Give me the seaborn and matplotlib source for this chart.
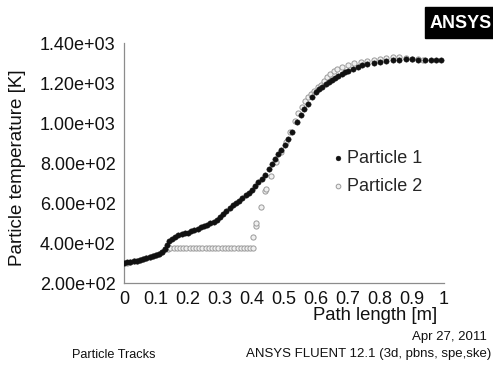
import matplotlib
matplotlib.use("Agg")
import matplotlib.pyplot as plt
import matplotlib.ticker as mticker
import numpy as np
import pandas as pd
import seaborn as sns

# path length [m] and temperature [K] of particle 1
p1_path = [
    0.000, 0.010, 0.020, 0.030, 0.040, 0.050, 0.060, 0.070, 0.080, 0.090,
    0.100, 0.110, 0.120, 0.128, 0.135, 0.142, 0.150, 0.160, 0.170, 0.180,
    0.190, 0.200, 0.210, 0.220, 0.230, 0.240, 0.250, 0.260, 0.270, 0.280,
    0.290, 0.300, 0.310, 0.320, 0.330, 0.340, 0.350, 0.360, 0.370, 0.380,
    0.390, 0.400, 0.410, 0.420, 0.430, 0.440, 0.452, 0.462, 0.472, 0.482,
    0.492, 0.502, 0.514, 0.526, 0.540, 0.552, 0.564, 0.576, 0.588, 0.600,
    0.610, 0.620, 0.630, 0.640, 0.650, 0.660, 0.670, 0.680, 0.690, 0.700,
    0.715, 0.730, 0.745, 0.760, 0.780, 0.800, 0.820, 0.840, 0.860, 0.880,
    0.900, 0.920, 0.940, 0.960, 0.975, 0.990,
]
p1_temp = [
    300, 303, 305, 308, 312, 316, 320, 324, 330, 335,
    340, 346, 355, 370, 392, 410, 422, 430, 438, 443,
    448, 452, 458, 463, 470, 478, 486, 492, 498, 505,
    514, 530, 545, 560, 575, 588, 600, 612, 624, 638,
    652, 666, 684, 704, 722, 742, 772, 795, 818, 845,
    866, 890, 922, 955, 1006, 1040, 1070, 1095, 1130, 1155,
    1168, 1182, 1193, 1203, 1215, 1226, 1236, 1246, 1254, 1261,
    1272, 1282, 1290, 1296, 1302, 1306, 1310, 1313, 1316, 1318,
    1318, 1317, 1316, 1316, 1316, 1315,
]

# path length [m] and temperature [K] of particle 2
p2_path = [
    0.000, 0.010, 0.020, 0.030, 0.040, 0.050, 0.060, 0.070, 0.080, 0.090,
    0.100, 0.110, 0.120, 0.128, 0.136, 0.145, 0.155, 0.165, 0.175, 0.185,
    0.195, 0.205, 0.215, 0.225, 0.235, 0.245, 0.255, 0.265, 0.275, 0.285,
    0.295, 0.305, 0.315, 0.325, 0.335, 0.345, 0.355, 0.365, 0.375, 0.385,
    0.395, 0.402, 0.404, 0.412, 0.413, 0.427, 0.442, 0.444, 0.458, 0.475,
    0.490, 0.505, 0.520, 0.535, 0.545, 0.555, 0.565,
    0.575, 0.585, 0.595, 0.605, 0.615, 0.625, 0.635, 0.645, 0.655, 0.665,
    0.680, 0.700, 0.720, 0.740, 0.760, 0.780, 0.800, 0.820, 0.840, 0.860,
    0.880, 0.900, 0.920, 0.935,
]
p2_temp = [
    300, 302, 304, 308, 311, 315, 319, 323, 329, 334,
    339, 345, 355, 368, 372, 373, 373, 374, 373, 374,
    373, 374, 374, 373, 374, 374, 373, 374, 374, 373,
    374, 374, 373, 374, 374, 373, 374, 374, 373, 374,
    374, 374, 428, 485, 498, 578, 660, 672, 735, 805,
    855, 905, 955, 1010, 1050, 1082, 1110,
    1128, 1145, 1162, 1178, 1192, 1210, 1228, 1245, 1262, 1270,
    1280, 1291, 1299, 1306, 1311, 1316, 1321, 1326, 1329, 1331,
    1327, 1322, 1319, 1316,
]

x_ticks = [0, 0.1, 0.2, 0.3, 0.4, 0.5, 0.6, 0.7, 0.8, 0.9, 1]
x_tick_labels = ["0", "0.1", "0.2", "0.3", "0.4", "0.5", "0.6", "0.7", "0.8", "0.9", "1"]
y_ticks = [200, 400, 600, 800, 1000, 1200, 1400]

sns.set_style("white")
plt.rcParams["font.family"] = ["Liberation Sans", "DejaVu Sans"]

df1 = pd.DataFrame({"path": p1_path, "temp": p1_temp})
df2 = pd.DataFrame({"path": p2_path, "temp": p2_temp})

fig = plt.figure(figsize=(4.93, 3.65), dpi=100)
ax = fig.add_axes([124 / 493, 1 - 283 / 365, 320 / 493, 240 / 365])

# particle 2 underneath, particle 1 on top
sns.scatterplot(data=df2, x="path", y="temp", ax=ax, s=14, marker="o",
                facecolor="#f0f0f0", edgecolor="#9a9a9a", linewidth=0.7,
                label="Particle 2", zorder=2)
sns.scatterplot(data=df1, x="path", y="temp", ax=ax, s=15, marker="o",
                color="#111111", edgecolor="#111111", linewidth=0.3,
                label="Particle 1", zorder=3)

ax.set_xlim(0, 1)
ax.set_ylim(200, 1400)
ax.set_xticks(x_ticks)
ax.set_xticklabels(x_tick_labels)
ax.set_yticks(y_ticks)
ax.yaxis.set_major_formatter(mticker.FuncFormatter(lambda v, p: f"{v:.2e}"))
ax.xaxis.set_minor_locator(mticker.MultipleLocator(0.01))
ax.yaxis.set_minor_locator(mticker.MultipleLocator(100))

for side in ["top", "right"]:
    ax.spines[side].set_visible(False)
for side in ["left", "bottom"]:
    ax.spines[side].set_color("#8c8c8c")
    ax.spines[side].set_linewidth(0.9)

ax.tick_params(which="major", direction="out", length=4, width=0.8,
               color="#8c8c8c", labelsize=13, labelcolor="#111111", pad=2)
ax.tick_params(which="minor", direction="out", length=2, width=0.6,
               color="#a0a0a0")
ax.tick_params(axis="y", which="minor", length=2.5)

ax.set_xlabel("Path length [m]", fontsize=13.3, color="#111111", loc="right")
ax.xaxis.set_label_coords((437 - 124) / 320, -0.1)
ax.set_ylabel("Particle temperature [K]", fontsize=13.5, color="#111111")
ax.yaxis.set_label_coords(-0.305, 0.48)

handles, labels = ax.get_legend_handles_labels()
order = [labels.index("Particle 1"), labels.index("Particle 2")]
ax.legend([handles[i] for i in order], [labels[i] for i in order],
          loc="upper left", bbox_to_anchor=(322 / 493, 1 - 141 / 365),
          bbox_transform=fig.transFigure, frameon=False, fontsize=13,
          handletextpad=0.1, handlelength=0.8, labelspacing=0.6,
          borderpad=0, markerscale=0.9)

# ANSYS logo box
fig.patches.append(plt.Rectangle((425 / 493, 1 - 38 / 365), 70 / 493, 31 / 365,
                                 transform=fig.transFigure, color="black"))
fig.text(430 / 493, 1 - 23 / 365, "ANSYS", color="white", fontsize=13,
         fontweight="bold", va="center", ha="left")

fig.text(487 / 493, 1 - 337 / 365, "Apr 27, 2011", fontsize=9.5,
         ha="right", va="center", color="#111111")
fig.text(491 / 493, 1 - 354 / 365, "ANSYS FLUENT 12.1 (3d, pbns, spe,ske)",
         fontsize=9.5, ha="right", va="center", color="#111111")
fig.text(72 / 493, 1 - 355 / 365, "Particle Tracks", fontsize=9.2,
         ha="left", va="center", color="#111111")

fig.savefig("out.png", dpi=100)
